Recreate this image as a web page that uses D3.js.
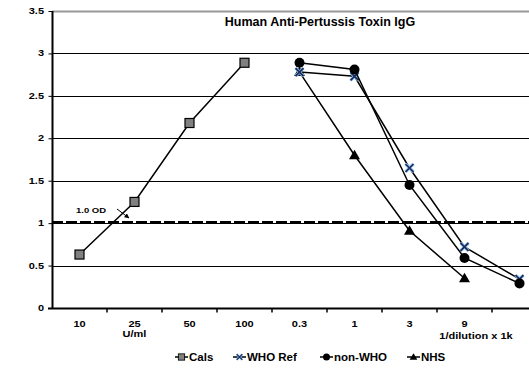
<!DOCTYPE html>
<html>
<head>
<meta charset="utf-8">
<script src="https://cdn.jsdelivr.net/npm/d3@7"></script>
<style>
  body { margin: 0; background: #fff; }
  svg { display: block; font-family: "Liberation Sans", Arial, sans-serif; font-weight: bold; }
</style>
</head>
<body>
<div id="chart"></div>
<script>
// category labels along the x axis (last slot has no label)
const categories = ["10", "25", "50", "100", "0.3", "1", "3", "9", ""];
const yTicks = [0, 0.5, 1, 1.5, 2, 2.5, 3, 3.5];

// OD readings per category, null = no point
const cals    = [0.63, 1.25, 2.18, 2.89, null, null, null, null, null];
const whoRef  = [null, null, null, null, 2.78, 2.73, 1.65, 0.72, 0.34];
const nonWho  = [null, null, null, null, 2.89, 2.81, 1.45, 0.59, 0.29];
const nhs     = [null, null, null, null, 2.78, 1.80, 0.91, 0.35, null];
const cutoff = 1.01;

const width = 529, height = 369;
const margin = { left: 52, top: 11, bottom: 61 };
const squash = 0.75; // the original text is flattened vertically

const svg = d3.select("#chart").append("svg")
  .attr("width", width)
  .attr("height", height);

const x = d3.scaleBand()
  .domain(d3.range(categories.length))
  .range([margin.left, margin.left + 55 * categories.length])
  .padding(0);

const y = d3.scaleLinear()
  .domain([0, 3.5])
  .range([height - margin.bottom, margin.top]);

function flatText(g, tx, ty, str, size, anchor) {
  return g.append("text")
    .attr("transform", `translate(${tx},${ty}) scale(1,${squash})`)
    .attr("text-anchor", anchor || "start")
    .style("font-size", size + "px")
    .text(str);
}

// gridlines
svg.append("g")
  .selectAll("line")
  .data(yTicks.filter(d => d > 0))
  .join("line")
  .attr("x1", margin.left)
  .attr("x2", width)
  .attr("y1", d => Math.round(y(d)) + 0.5)
  .attr("y2", d => Math.round(y(d)) + 0.5)
  .attr("stroke", d => d == 3.5 ? "#999" : "#000")
  .attr("stroke-width", d => d == 3.5 ? 2 : 1);

// 1.0 OD dashed cutoff
svg.append("line")
  .attr("x1", margin.left)
  .attr("x2", width)
  .attr("y1", y(cutoff))
  .attr("y2", y(cutoff))
  .attr("stroke", "#000")
  .attr("stroke-width", 2.5)
  .attr("stroke-dasharray", "11,3");

// y axis
const yAxis = svg.append("g")
  .attr("transform", `translate(${margin.left + 0.5},0)`)
  .call(d3.axisLeft(y).tickValues(yTicks).tickSize(4).tickFormat(() => ""));
yAxis.select(".domain").attr("stroke-width", 2).attr("d", `M0,${y(3.5)}V${y(0)}`);
yTicks.forEach(t => flatText(svg, 44, y(t) + 3, d3.format("")(t), 11, "end"));

// x axis
const xAxis = svg.append("g")
  .attr("transform", `translate(0,${Math.round(y(0)) + 0.5})`);
xAxis.append("line")
  .attr("x1", margin.left - 4).attr("x2", width)
  .attr("stroke", "#000").attr("stroke-width", 2);
xAxis.selectAll(".tick")
  .data(d3.range(1, categories.length))
  .join("line")
  .attr("class", "tick")
  .attr("x1", d => x(d)).attr("x2", d => x(d))
  .attr("y1", 0).attr("y2", 4)
  .attr("stroke", "#000").attr("stroke-width", 1.5);
categories.forEach((c, i) => flatText(xAxis, x(i) + x.bandwidth() / 2, 18, c, 11, "middle"));
flatText(xAxis, x(1) + x.bandwidth() / 2, 28, "U/ml", 11, "middle");
flatText(xAxis, 476, 30, "1/dilution x 1k", 11, "middle");

// title
svg.append("text")
  .attr("x", 320)
  .attr("y", 26)
  .attr("text-anchor", "middle")
  .style("font-size", "12.5px")
  .text("Human Anti-Pertussis Toxin IgG");

// annotation
flatText(svg, 76, 213, "1.0 OD", 9.5);
svg.append("defs").append("marker")
  .attr("id", "arrow")
  .attr("viewBox", "0 0 10 10")
  .attr("refX", 9).attr("refY", 5)
  .attr("markerWidth", 5).attr("markerHeight", 5)
  .attr("orient", "auto")
  .append("path").attr("d", "M0,0L10,5L0,10z").attr("fill", "#000");
svg.append("line")
  .attr("x1", 117).attr("y1", 209)
  .attr("x2", 129).attr("y2", 218)
  .attr("stroke", "#000").attr("stroke-width", 1)
  .attr("marker-end", "url(#arrow)");

const series = [
  { name: "Cals", values: cals, shape: "square" },
  { name: "WHO Ref", values: whoRef, shape: "x" },
  { name: "non-WHO", values: nonWho, shape: "circle" },
  { name: "NHS", values: nhs, shape: "triangle" }
];

function drawMarker(g, shape, cx, cy) {
  if (shape == "square") {
    g.append("rect").attr("x", cx - 4.5).attr("y", cy - 4.5)
      .attr("width", 9).attr("height", 9)
      .attr("fill", "#808080").attr("stroke", "#000").attr("stroke-width", 1.2);
  } else if (shape == "circle") {
    g.append("circle").attr("cx", cx).attr("cy", cy).attr("r", 5).attr("fill", "#000");
  } else if (shape == "triangle") {
    g.append("path").attr("d", `M${cx},${cy - 5.5}L${cx + 5.5},${cy + 4}L${cx - 5.5},${cy + 4}Z`).attr("fill", "#000");
  } else if (shape == "x") {
    g.append("path").attr("d", `M${cx - 4},${cy - 4}L${cx + 4},${cy + 4}M${cx - 4},${cy + 4}L${cx + 4},${cy - 4}`)
      .attr("stroke", "#8fc3f0").attr("stroke-width", 3.2);
    g.append("path").attr("d", `M${cx - 4},${cy - 4}L${cx + 4},${cy + 4}M${cx - 4},${cy + 4}L${cx + 4},${cy - 4}`)
      .attr("stroke", "#1a2a5a").attr("stroke-width", 1.6);
  }
}

const line = d3.line()
  .defined(d => d.v != null)
  .x(d => x(d.i) + x.bandwidth() / 2)
  .y(d => y(d.v));

// draw order so circles sit on top like the reference
const order = ["NHS", "WHO Ref", "non-WHO", "Cals"];
order.forEach(nm => {
  const s = series.find(d => d.name == nm);
  const pts = s.values.map((v, i) => ({ i, v }));
  const g = svg.append("g");
  g.append("path")
    .attr("d", line(pts))
    .attr("fill", "none")
    .attr("stroke", "#000")
    .attr("stroke-width", 1.5);
  pts.filter(d => d.v != null).forEach(d => {
    drawMarker(g, s.shape, x(d.i) + x.bandwidth() / 2, y(d.v));
  });
});

// legend
const legendX = [175, 233, 320, 407];
series.forEach((s, k) => {
  const g = svg.append("g");
  const lx = legendX[k], ly = 357;
  g.append("line").attr("x1", lx).attr("x2", lx + 13).attr("y1", ly).attr("y2", ly)
    .attr("stroke", "#000").attr("stroke-width", 1.5);
  const gm = g.append("g");
  drawMarker(gm, s.shape, lx + 6.5, ly);
  gm.attr("transform", `translate(${lx + 6.5},${ly}) scale(0.7) translate(${-(lx + 6.5)},${-ly})`);
  g.append("text")
    .attr("x", lx + 14)
    .attr("y", ly + 4)
    .style("font-size", "11.5px")
    .text(s.name);
});
</script>
</body>
</html>
